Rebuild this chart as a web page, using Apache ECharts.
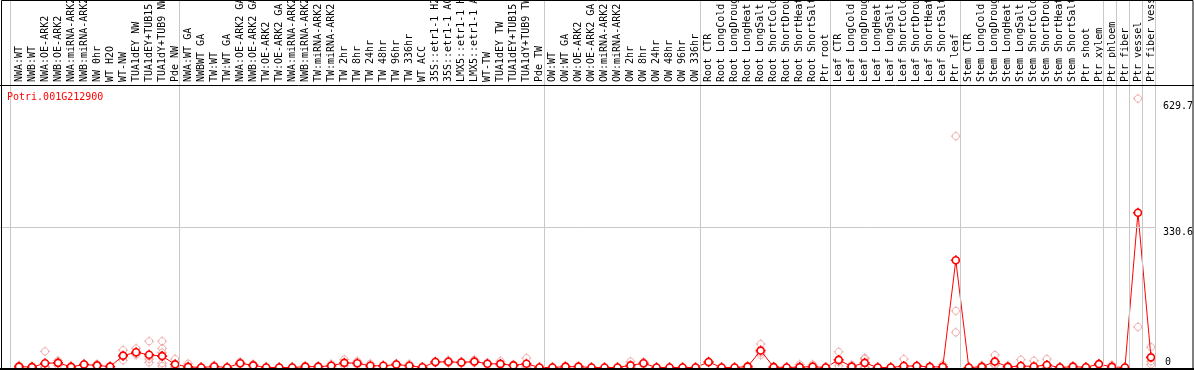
<!DOCTYPE html>
<html>
<head>
<meta charset="utf-8">
<script src="https://cdn.jsdelivr.net/npm/echarts@6/dist/echarts.min.js"></script>
<style>
html,body{margin:0;padding:0;background:#fff;}
#chart{width:1194px;height:370px;}
</style>
</head>
<body>
<div id="chart"></div>
<script>
// ---------------- data ----------------
const geneTitle = 'Potri.001G212900';

const categories = [
'NWA:WT','NWB:WT','NWA:OE-ARK2','NWB:OE-ARK2','NWA:miRNA-ARK2','NWB:miRNA-ARK2','NW 0hr','WT H2O','WT-NW','TUA1dEY NW','TUA1dEY+TUB15','TUA1dY+TUB9 NW','Pde NW',
'NWA:WT GA','NWBWT GA','TW:WT','TW:WT GA','NWA:OE-ARK2 GA','NWB:OE-ARK2 GA','TW:OE-ARK2','TW:OE-ARK2 GA','NWA:miRNA-ARK2','NWB:miRNA-ARK2','TW:miRNA-ARK2','TW:miRNA-ARK2','TW 2hr','TW 8hr','TW 24hr','TW 48hr','TW 96hr','TW 336hr','WT ACC','35S::etr1-1 H2O','35S::etr1-1 ACC','LMX5::etr1-1 H2O','LMX5::etr1-1 ACC','WT-TW','TUA1dEY TW','TUA1dEY+TUB15','TUA1dY+TUB9 TW','Pde TW',
'OW:WT','OW:WT GA','OW:OE-ARK2','OW:OE-ARK2 GA','OW:miRNA-ARK2','OW:miRNA-ARK2','OW 2hr','OW 8hr','OW 24hr','OW 48hr','OW 96hr','OW 336hr',
'Root CTR','Root LongCold','Root LongDrought','Root LongHeat','Root LongSalt','Root ShortCold','Root ShortDrought','Root ShortHeat','Root ShortSalt','Ptr root',
'Leaf CTR','Leaf LongCold','Leaf LongDrought','Leaf LongHeat','Leaf LongSalt','Leaf ShortCold','Leaf ShortDrought','Leaf ShortHeat','Leaf ShortSalt','Ptr leaf',
'Stem CTR','Stem LongCold','Stem LongDrought','Stem LongHeat','Stem LongSalt','Stem ShortCold','Stem ShortDrought','Stem ShortHeat','Stem ShortSalt','Ptr shoot',
'Ptr xylem','Ptr phloem','Ptr fiber','Ptr vessel','Ptr fiber vessel'
];

// mean expression per sample
const meanValues = [
2, 1, 10, 11, 1.5, 7, 5, 2, 28, 36, 30, 27, 7.5,
1.5, 0, 2.5, 0, 10, 5, 0, 0, 0, 2, 2, 4, 11, 10, 4, 4, 7, 4, 0.5, 13, 13.5, 12, 14, 9, 8.5, 5, 9, 0,
0, 2, 2, 0, 0, 0, 5, 10, 0, 0, 0, 0,
13, 0, 0, 2, 40, 1, 0, 1, 2, 0,
18, 2, 11, 0, 0, 3.5, 3.5, 1.5, 1.5, 253.5,
0, 1.5, 14, 1.5, 3.5, 2.5, 6, 0, 2, 0.5,
8, 1.5, 0, 366, 24
];

// replicate values per sample
const replicateValues = [
[5,1,0],[3,0.5,0],[38,1,0,1],[16,12,5],[3,1,0.5],[9,7,5],[8,4,3],[3,2,1],[41,26,17],[45,33,30],[62,26,12,20],[62,45,35,25.5,10,3.5],[20,2,0.5],
[9,0,0],[0.5,0,0],[5,2,0.5],[0,0,0],[13,10,7],[8,5,2],[0,0,0],[0,0,0],[0,0,0],[4,1.5,0.5],[3,2,1],[8,3,1],[19,10,4],[15,9,6],[9,2,1],[5,4,3],[9,7,5],[8,3,1],[1,0.5,0],[15,13,11],[17,13,10.5],[14,12,10],[18,13,11],[11,9,7],[15,6,4.5],[7,5,3],[22,4,1],[0,0,0],
[0,0,0],[4,1.5,0.5],[3,2,1],[0,0,0],[0,0,0],[0,0,0],[14,1,0],[13,10,7],[0,0,0],[0,0,0],[0,0,0],[0,0,0],
[15,13,11],[0,0,0],[0,0,0],[4,1.5,0.5],[55.5,35,29.5],[2,1,0],[0,0,0],[7,0,0],[7,1,0],[0,0,0],
[37,13,4],[6,0,0],[22.5,20,1,0],[0,0,0],[0,0,0],[20,0,0,0],[5,4,2],[2,1.5,1],[7,1,0],[547,134,83],
[0,0,0],[5,0,0],[29.5,8,5],[4,1,0],[18.5,1,0,0],[16,0,0,0],[20,0,0],[0,0,0],[3,2,1],[1,0.5,0],
[9,8,7],[6,0,0],[0,0,0],[636,96],[48,15,7]
];

// sample index at which each vertical group separator lies
const groupBoundaries = [0, 13, 41, 53, 63, 73, 84, 85, 86, 87, 88];

// y-axis tick labels
const yTickLabels = [0, 330.6, 629.7];
const yGridLine = 330.6;
const yMax = 668;

// ---------------- layout ----------------
const W = 1194, H = 370;
const gridTop = 85, gridBottom = 2.5, gridLeft = 12.5;
const pitch = 13.011;
const gridWidth = pitch * categories.length;
const lineOffset = 2; // separators sit 2px left of cell boundary
const sepLeft = 0;
const sepWidth = gridLeft - lineOffset + gridWidth;
const sepXMin = -(gridLeft - lineOffset) / pitch;
const plotH = H - gridTop - gridBottom;
const sepYMax = yMax * (H - gridBottom) / plotH;

const mono = 'DejaVu Sans Mono';
const markerPath = 'path://M5,1.5 C6.933,1.5 8.5,3.067 8.5,5 C8.5,6.933 6.933,8.5 5,8.5 C3.067,8.5 1.5,6.933 1.5,5 C1.5,3.067 3.067,1.5 5,1.5 Z M5,0 L5,1.5 M5,8.5 L5,10 M0,5 L1.5,5 M8.5,5 L10,5';

const repData = [];
replicateValues.forEach((arr, i) => arr.forEach(v => repData.push([i, v])));

const chart = echarts.init(document.getElementById('chart'), null, {renderer: 'canvas'});
chart.setOption({
  animation: false,
  backgroundColor: '#fff',
  title: {
    text: geneTitle, left: 7, top: 92, padding: 0,
    textStyle: {color: '#ff0000', fontSize: 10, fontWeight: 'normal', fontFamily: mono}
  },
  grid: [
    {left: gridLeft, width: gridWidth, top: gridTop, bottom: gridBottom, outerBoundsMode: 'none', containLabel: false},
    {left: sepLeft, width: sepWidth, top: 0, bottom: gridBottom, outerBoundsMode: 'none', containLabel: false}
  ],
  xAxis: [
    {
      type: 'category', gridIndex: 0, position: 'top', data: categories, boundaryGap: true,
      axisLine: {show: false}, axisTick: {show: false}, splitLine: {show: false},
      axisLabel: {rotate: 90, interval: 0, margin: 3, fontSize: 10, fontFamily: mono, color: '#000', hideOverlap: false}
    },
    {
      type: 'value', gridIndex: 1, min: sepXMin, max: categories.length, show: false
    }
  ],
  yAxis: [
    {
      type: 'value', gridIndex: 0, position: 'right', min: 0, max: yMax,
      axisLine: {show: false}, axisTick: {show: false}, splitLine: {show: false},
      axisLabel: {customValues: yTickLabels.filter(v => v !== 0), verticalAlign: 'top', align: 'left', margin: 5.5,
                  fontSize: 10, fontFamily: mono, color: '#000'}
    },
    {
      type: 'value', gridIndex: 0, position: 'right', min: 0, max: yMax,
      axisLine: {show: false}, axisTick: {show: false}, splitLine: {show: false},
      axisLabel: {customValues: yTickLabels.filter(v => v === 0), verticalAlign: 'bottom', align: 'left', margin: 7.5,
                  fontSize: 10, fontFamily: mono, color: '#000'}
    },
    {
      type: 'value', gridIndex: 1, min: 0, max: sepYMax, show: false
    }
  ],
  series: [
    {
      type: 'line', xAxisIndex: 1, yAxisIndex: 2, data: [], silent: true, z: 0,
      markLine: {
        silent: true, symbol: 'none', animation: false,
        label: {show: false},
        lineStyle: {color: '#c8c8c8', width: 1, type: 'solid'},
        emphasis: {disabled: true},
        data: groupBoundaries.map(b => ({xAxis: b})).concat([{yAxis: yGridLine}])
      }
    },
    {
      type: 'scatter', xAxisIndex: 0, yAxisIndex: 0, data: repData, z: 3,
      symbol: markerPath, symbolSize: 10, silent: true,
      itemStyle: {color: 'rgba(255,255,255,0)', borderColor: '#ee9a9a', borderWidth: 1}
    },
    {
      type: 'line', xAxisIndex: 0, yAxisIndex: 0, data: meanValues, z: 4,
      symbol: markerPath, symbolSize: 10, showAllSymbol: true, silent: true,
      lineStyle: {color: '#ff0000', width: 1},
      itemStyle: {color: '#ffffff', borderColor: '#ff0000', borderWidth: 1.6}
    }
  ],
  graphic: [
    {type: 'line', z: 100, silent: true, shape: {x1: 0, y1: gridTop + 0.5, x2: W, y2: gridTop + 0.5}, style: {stroke: '#000', lineWidth: 1}},
    {type: 'rect', z: 100, silent: true, shape: {x: 1.5, y: 0.5, width: W - 2.5, height: H - 1.5}, style: {fill: null, stroke: '#000', lineWidth: 1}},
    {type: 'line', z: 100, silent: true, shape: {x1: 0, y1: H - 1, x2: W, y2: H - 1}, style: {stroke: '#000', lineWidth: 2}}
  ]
});
</script>
</body>
</html>
